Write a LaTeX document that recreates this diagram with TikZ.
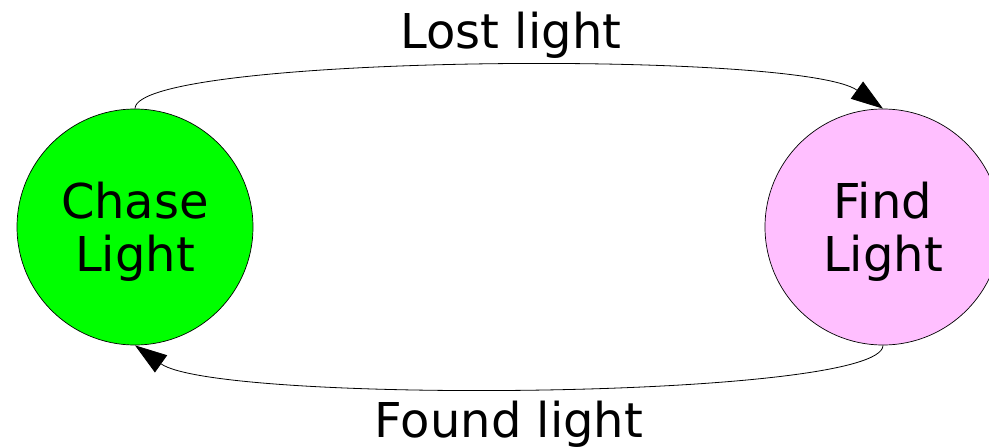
\documentclass[tikz,border=0pt]{standalone}
\usepackage{fontspec}
\setmainfont{DejaVu Sans}
\usetikzlibrary{arrows.meta}
\definecolor{chasegreen}{RGB}{0,255,0}
\definecolor{findpink}{RGB}{255,191,255}
\newcommand{\toppad}{\rule{0pt}{46pt}}
\begin{document}
\begin{tikzpicture}[x=1pt,y=-1pt,
  state/.style={circle, draw=black, line width=0.7pt, minimum size=236pt, inner sep=0pt, align=center, font=\fontsize{48}{53}\selectfont},
  edgelabel/.style={anchor=base, inner sep=0pt, font=\fontsize{48}{53}\selectfont},
  conn/.style={line width=0.8pt, -{Triangle[length=32pt,width=21pt]}}]
\useasboundingbox (0,0) rectangle (989,447);
\node[state, fill=chasegreen] (chase) at (135,227) {\toppad Chase\\Light};
\node[state, fill=findpink] (find) at (883,227) {\toppad Find\\Light};
\draw[conn] (chase.north) .. controls +(0,-54) and +(-83,-59) .. (find.north);
\draw[conn] (find.south) .. controls +(0,54) and +(83,59) .. (chase.south);
\node[edgelabel] (lost) at (511,48) {Lost light};
\node[edgelabel] (found) at (509,437) {Found light};
\end{tikzpicture}
\end{document}
